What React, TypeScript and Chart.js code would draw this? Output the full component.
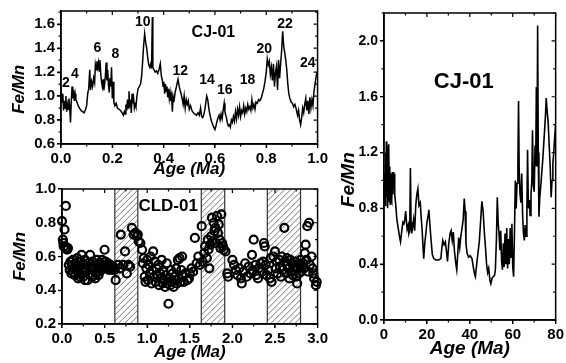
import React, { useEffect, useRef } from 'react';
import { Chart, registerables } from 'chart.js';
Chart.register(...registerables);

const FONT = 'Arial, "Liberation Sans", Helvetica, sans-serif';

// ---------- Panel A (CJ-01, 0-1 Ma) ----------
const ageA = [
  0.000,0.004,0.007,0.010,0.013,0.016,0.019,0.022,0.025,0.028,
  0.031,0.034,0.037,0.040,0.043,0.046,0.049,0.052,0.055,0.058,
  0.062,0.067,0.072,0.078,0.084,0.090,0.096,0.100,0.104,0.108,
  0.112,0.115,0.119,0.123,0.127,0.131,0.134,0.137,0.140,0.143,
  0.146,0.149,0.152,0.155,0.158,0.161,0.164,0.167,0.170,0.173,
  0.176,0.179,0.182,0.185,0.188,0.191,0.194,0.197,0.200,0.203,
  0.206,0.210,0.215,0.220,0.226,0.232,0.238,0.243,0.247,0.250,
  0.253,0.256,0.259,0.262,0.265,0.268,0.271,0.274,0.277,0.280,
  0.283,0.286,0.289,0.292,0.296,0.300,0.305,0.310,0.314,0.318,
  0.322,0.326,0.330,0.334,0.338,0.342,0.346,0.350,0.353,0.356,
  0.358,0.362,0.367,0.372,0.377,0.382,0.387,0.391,0.395,0.398,
  0.401,0.404,0.407,0.410,0.413,0.416,0.419,0.422,0.425,0.428,
  0.431,0.434,0.437,0.440,0.444,0.448,0.452,0.456,0.460,0.464,
  0.468,0.472,0.476,0.480,0.484,0.488,0.492,0.496,0.500,0.505,
  0.510,0.516,0.522,0.528,0.534,0.539,0.544,0.548,0.552,0.556,
  0.560,0.564,0.568,0.572,0.576,0.580,0.585,0.590,0.595,0.600,
  0.604,0.608,0.612,0.616,0.620,0.624,0.628,0.632,0.636,0.639,
  0.642,0.645,0.648,0.652,0.656,0.660,0.664,0.668,0.672,0.676,
  0.680,0.684,0.688,0.692,0.696,0.700,0.704,0.708,0.712,0.716,
  0.720,0.724,0.728,0.732,0.736,0.740,0.744,0.748,0.752,0.756,
  0.760,0.765,0.770,0.775,0.780,0.785,0.790,0.795,0.800,0.804,
  0.808,0.812,0.816,0.820,0.824,0.828,0.832,0.836,0.840,0.844,
  0.848,0.852,0.856,0.860,0.864,0.868,0.872,0.876,0.880,0.884,
  0.888,0.892,0.897,0.902,0.907,0.912,0.917,0.922,0.926,0.930,
  0.934,0.938,0.942,0.946,0.950,0.954,0.958,0.962,0.966,0.970,
  0.974,0.978,0.982,0.986,0.990,0.994,0.998,
];
const feMnA = [
  1.07,0.95,1.02,0.88,0.96,0.90,1.00,0.87,0.93,0.89,
  0.98,0.91,0.78,0.95,1.08,0.98,1.05,0.96,1.02,0.97,
  0.95,0.92,0.90,0.88,0.87,0.86,0.89,0.92,1.02,1.06,
  1.22,1.05,1.12,1.08,1.15,1.11,1.26,1.22,1.29,1.24,
  1.28,1.21,1.30,1.18,1.12,1.08,1.14,1.05,1.10,1.17,
  1.28,1.13,1.22,1.09,1.03,1.15,1.08,1.24,0.98,1.12,
  0.95,0.92,0.94,0.90,0.89,0.88,0.86,0.84,0.87,0.85,
  0.93,0.88,0.97,0.90,1.04,0.91,0.97,0.86,1.02,0.94,
  0.98,0.90,0.93,0.91,1.00,1.06,1.08,1.10,1.16,1.28,
  1.42,1.52,1.45,1.40,1.32,1.26,1.24,1.27,1.23,1.66,
  1.24,1.22,1.20,1.21,1.19,1.22,1.27,1.17,1.13,1.08,
  1.12,1.02,1.10,1.04,1.08,0.99,1.06,0.98,1.03,0.96,
  1.00,0.87,0.99,0.95,1.02,1.06,1.10,1.14,1.09,1.05,
  1.02,0.98,0.93,1.00,0.90,0.97,0.93,0.96,0.89,0.92,
  0.88,0.86,0.85,0.84,0.86,0.84,0.90,0.83,0.82,0.84,
  0.88,0.94,1.00,0.97,0.90,0.85,0.80,0.77,0.74,0.72,
  0.75,0.79,0.82,0.84,0.80,0.85,0.81,0.88,0.94,0.87,
  0.84,0.82,0.78,0.75,0.76,0.74,0.80,0.78,0.83,0.79,
  0.87,0.81,0.89,0.84,0.91,0.83,0.88,0.86,0.92,0.85,
  0.90,0.87,0.93,0.89,0.91,0.88,0.97,0.90,0.93,0.89,
  0.95,0.94,0.97,0.96,0.98,1.02,1.06,1.12,1.20,1.31,
  1.26,1.29,1.18,1.24,1.13,1.27,1.08,1.20,1.25,1.05,
  1.30,1.15,1.27,1.38,1.54,1.42,1.36,1.30,1.22,1.10,
  1.02,0.98,0.95,0.94,0.91,0.93,0.89,0.84,0.88,0.80,
  0.76,0.82,0.90,0.86,0.93,0.98,0.88,0.96,0.85,0.99,
  0.90,0.97,0.92,1.04,1.10,1.16,1.20,
];
const xTicksA = [0, 0.2, 0.4, 0.6, 0.8, 1.0];
const yTicksA = [0.6, 0.8, 1.0, 1.2, 1.4, 1.6];
const peakLabelsA = ['2', '4', '6', '8', '10', '12', '14', '16', '18', '20', '22', '24'];
const peakAgeA = [0.019, 0.054, 0.142, 0.212, 0.319, 0.465, 0.569, 0.638, 0.727, 0.792, 0.873, 0.962];
const peakFeA = [1.109, 1.187, 1.402, 1.352, 1.617, 1.212, 1.129, 1.046, 1.129, 1.393, 1.600, 1.278];

// ---------- Panel B (CLD-01, 0-3 Ma) ----------
const ageB = [
  0.00,0.01,0.015,0.02,0.03,0.035,0.045,0.05,0.06,0.07,
  0.08,0.09,0.10,0.11,0.12,0.13,0.14,0.15,0.16,0.17,
  0.18,0.19,0.20,0.21,0.22,0.23,0.24,0.25,0.26,0.27,
  0.28,0.29,0.30,0.31,0.32,0.33,0.34,0.35,0.36,0.37,
  0.38,0.39,0.40,0.41,0.42,0.43,0.44,0.45,0.46,0.47,
  0.48,0.49,0.50,0.51,0.52,0.53,0.54,0.55,0.56,0.57,
  0.58,0.59,0.60,0.13,0.21,0.27,0.36,0.44,0.62,0.63,
  0.66,0.68,0.69,0.72,0.74,0.76,0.78,0.80,0.82,0.84,
  0.86,0.88,0.89,0.90,0.92,0.94,0.95,0.96,0.97,0.98,
  0.99,1.00,1.01,1.02,1.03,1.04,1.05,1.06,1.07,1.08,
  1.09,1.10,1.11,1.12,1.13,1.14,1.15,1.16,1.17,1.18,
  1.19,1.20,1.21,1.22,1.23,1.24,1.25,1.26,1.27,1.28,
  1.29,1.30,1.31,1.32,1.33,1.34,1.35,1.36,1.37,1.38,
  1.39,1.40,1.41,1.42,1.43,1.45,1.47,1.49,1.50,1.52,
  1.54,1.56,1.58,1.60,1.62,1.64,1.65,1.67,1.68,1.70,
  1.71,1.72,1.73,1.74,1.75,1.76,1.77,1.78,1.79,1.80,
  1.81,1.82,1.83,1.84,1.85,1.86,1.87,1.88,1.89,1.90,
  1.92,1.94,1.95,2.00,2.02,2.04,2.06,2.08,2.10,2.11,
  2.13,2.15,2.17,2.19,2.21,2.23,2.24,2.25,2.27,2.28,
  2.30,2.31,2.33,2.35,2.36,2.37,2.38,2.39,2.40,2.42,
  2.44,2.45,2.46,2.48,2.50,2.51,2.52,2.53,2.55,2.56,
  2.57,2.58,2.59,2.61,2.62,2.63,2.64,2.65,2.66,2.67,
  2.68,2.69,2.70,2.71,2.72,2.73,2.74,2.75,2.76,2.77,
  2.78,2.79,2.80,2.81,2.82,2.83,2.84,2.85,2.86,2.87,
  2.88,2.89,2.90,2.91,2.93,2.94,2.95,2.96,2.98,2.99,
];
const feMnB = [
  0.81,0.70,0.68,0.66,0.76,0.66,0.90,0.65,0.64,0.65,
  0.55,0.52,0.57,0.50,0.55,0.58,0.53,0.49,0.56,0.52,
  0.59,0.47,0.54,0.50,0.57,0.61,0.52,0.48,0.55,0.58,
  0.51,0.53,0.46,0.56,0.50,0.61,0.54,0.49,0.57,0.52,
  0.55,0.47,0.50,0.58,0.53,0.49,0.55,0.56,0.52,0.58,
  0.54,0.53,0.64,0.57,0.55,0.53,0.56,0.52,0.54,0.55,
  0.53,0.52,0.54,0.51,0.48,0.46,0.48,0.51,0.52,0.46,
  0.55,0.53,0.73,0.55,0.63,0.50,0.55,0.54,0.77,0.73,
  0.74,0.72,0.73,0.69,0.68,0.64,0.56,0.59,0.48,0.45,
  0.53,0.58,0.46,0.55,0.50,0.60,0.44,0.52,0.63,0.48,
  0.57,0.45,0.53,0.49,0.55,0.43,0.50,0.47,0.58,0.44,
  0.51,0.46,0.42,0.49,0.56,0.44,0.32,0.47,0.43,0.52,
  0.45,0.50,0.42,0.48,0.46,0.53,0.44,0.58,0.47,0.59,
  0.45,0.52,0.60,0.49,0.45,0.50,0.46,0.47,0.50,0.53,
  0.51,0.71,0.56,0.60,0.55,0.78,0.57,0.62,0.66,0.59,
  0.70,0.64,0.53,0.67,0.72,0.83,0.69,0.80,0.75,0.77,
  0.68,0.84,0.74,0.79,0.70,0.65,0.85,0.68,0.66,0.64,
  0.63,0.50,0.48,0.58,0.55,0.52,0.49,0.53,0.47,0.44,
  0.51,0.56,0.48,0.54,0.50,0.61,0.52,0.70,0.55,0.49,
  0.47,0.53,0.56,0.51,0.57,0.68,0.66,0.55,0.49,0.52,
  0.47,0.59,0.45,0.60,0.63,0.53,0.57,0.50,0.58,0.54,
  0.48,0.60,0.52,0.77,0.57,0.50,0.59,0.55,0.53,0.47,
  0.58,0.51,0.56,0.49,0.54,0.52,0.57,0.48,0.44,0.53,
  0.50,0.55,0.58,0.51,0.54,0.56,0.53,0.62,0.67,0.58,
  0.78,0.51,0.80,0.55,0.60,0.53,0.50,0.47,0.43,0.45,
];
const xTicksB = [0, 0.5, 1.0, 1.5, 2.0, 2.5, 3.0];
const yTicksB = [0.2, 0.4, 0.6, 0.8, 1.0];
const bandStart = [0.62, 1.635, 2.41];
const bandEnd = [0.89, 1.91, 2.80];

// ---------- Panel C (CJ-01, 0-80 Ma) ----------
const ageC = [
  0.0,0.3,0.5,0.7,0.9,1.1,1.3,1.5,1.7,1.9,
  2.1,2.3,2.5,2.7,2.9,3.1,3.3,3.5,3.7,3.9,
  4.1,4.3,4.5,4.7,5.0,5.5,6.0,6.6,7.2,7.7,
  8.3,8.8,9.3,9.7,10.1,10.5,10.8,11.3,11.6,12.0,
  12.3,12.6,12.9,13.3,13.8,14.3,14.8,15.3,15.8,16.3,
  16.9,17.4,17.8,18.2,18.5,19.0,19.5,20.0,20.5,20.9,
  21.3,21.9,22.5,23.2,24.2,25.5,26.5,27.0,27.4,28.0,
  28.6,29.2,29.6,30.2,30.8,31.3,31.8,32.3,32.8,33.5,
  33.9,34.4,34.8,35.3,35.8,36.3,36.9,37.4,37.8,38.2,
  38.7,39.4,40.2,41.0,41.6,42.2,42.6,43.2,43.8,44.4,
  45.0,45.6,46.2,46.8,47.3,47.8,48.3,48.8,49.4,49.8,
  50.4,50.9,51.5,51.9,52.4,52.8,53.2,53.6,54.0,54.4,
  54.8,55.2,55.6,56.0,56.4,56.8,57.2,57.6,58.0,58.4,
  58.8,59.2,59.6,60.0,60.4,60.8,61.2,61.6,62.0,62.4,
  62.7,63.0,63.4,63.8,64.2,64.6,65.0,65.4,65.8,66.2,
  66.6,66.9,67.3,67.7,68.1,68.5,68.9,69.2,69.6,70.0,
  70.4,70.7,71.0,71.3,71.6,71.9,72.2,72.6,73.0,73.5,
  74.0,74.6,75.2,75.6,76.0,76.5,77.0,77.5,77.9,78.3,
  78.7,79.1,79.5,80.0,
];
const feMnC = [
  0.90,1.05,0.82,1.20,0.85,1.28,0.88,1.25,0.80,1.18,
  0.92,1.26,0.85,1.10,0.83,1.05,0.88,1.03,0.86,1.06,
  0.90,1.06,0.95,1.05,0.90,0.82,0.72,0.66,0.60,0.56,
  0.64,0.70,0.69,0.72,0.78,0.70,0.65,0.68,0.62,0.64,
  1.09,0.70,0.62,0.66,0.72,0.64,0.82,0.90,0.94,0.82,
  0.84,0.72,0.64,0.52,0.44,0.55,0.62,0.70,0.74,0.79,
  0.70,0.58,0.47,0.44,0.43,0.43,0.44,0.52,0.57,0.54,
  0.56,0.48,0.42,0.55,0.62,0.64,0.57,0.63,0.50,0.40,
  0.36,0.48,0.59,0.52,0.60,0.65,0.72,0.87,0.78,0.55,
  0.48,0.45,0.46,0.44,0.38,0.33,0.31,0.40,0.48,0.56,
  0.70,0.85,0.78,0.62,0.52,0.40,0.34,0.37,0.28,0.26,
  0.30,0.31,0.32,0.36,0.58,0.88,0.70,0.62,0.50,0.64,
  0.42,0.36,0.55,0.38,0.62,0.40,0.66,0.37,0.58,0.40,
  0.66,0.45,0.69,0.38,0.31,0.62,1.00,0.80,0.98,1.10,
  1.57,1.08,0.90,0.84,1.05,0.75,0.62,0.57,0.68,0.60,
  0.78,1.22,0.80,0.86,0.75,0.90,1.00,1.36,0.96,0.92,
  1.25,1.10,1.67,1.10,2.11,1.20,0.74,0.88,0.95,1.05,
  1.15,1.30,1.45,1.59,1.50,1.42,1.25,1.08,0.88,1.00,
  1.12,1.20,1.30,1.41,
];
const xTicksC = [0, 20, 40, 60, 80];
const yTicksC = [0, 0.4, 0.8, 1.2, 1.6, 2.0];

// ---------- helpers ----------
const bold = (size: number, italic = false) => ({ family: FONT, size, weight: 'bold' as const, style: (italic ? 'italic' : 'normal') as any });

function framePlugin(minorX: number, minorY: number) {
  return {
    id: 'frame',
    afterDraw(chart: any) {
      const ctx = chart.ctx;
      const { left, right, top, bottom } = chart.chartArea;
      const xs = chart.scales.x;
      const ys = chart.scales.y;
      const majX = xs.ticks.map((t: any) => t.value);
      const majY = ys.ticks.map((t: any) => t.value);
      const isMaj = (arr: number[], v: number, step: number) => arr.some((m) => Math.abs(m - v) < step * 0.01);
      ctx.save();
      ctx.strokeStyle = '#000';
      ctx.lineWidth = 1.2;
      ctx.beginPath();
      const nx = Math.floor((xs.max - xs.min) / minorX + 1e-6);
      for (let i = 0; i <= nx; i++) {
        const v = xs.min + i * minorX;
        const p = xs.getPixelForValue(v);
        const len = isMaj(majX, v, minorX) ? 4 : 2.5;
        ctx.moveTo(p, bottom); ctx.lineTo(p, bottom + len);
        ctx.moveTo(p, top); ctx.lineTo(p, top + len);
      }
      const ny = Math.floor((ys.max - ys.min) / minorY + 1e-6);
      for (let i = 0; i <= ny; i++) {
        const v = ys.min + i * minorY;
        const p = ys.getPixelForValue(v);
        const len = isMaj(majY, v, minorY) ? 4 : 2.5;
        ctx.moveTo(left, p); ctx.lineTo(left - len, p);
        ctx.moveTo(right, p); ctx.lineTo(right - len, p);
      }
      ctx.stroke();
      ctx.lineWidth = 1.5;
      ctx.strokeRect(left, top, right - left, bottom - top);
      ctx.restore();
    },
  };
}

function textPlugin(texts: string[], xs: number[], ys: number[], sizes: number[]) {
  return {
    id: 'texts',
    afterDatasetsDraw(chart: any) {
      const ctx = chart.ctx;
      ctx.save();
      ctx.fillStyle = '#000';
      ctx.textAlign = 'center';
      ctx.textBaseline = 'middle';
      texts.forEach((t, i) => {
        ctx.font = `bold ${sizes[i]}px ${FONT}`;
        ctx.fillText(t, chart.scales.x.getPixelForValue(xs[i]), chart.scales.y.getPixelForValue(ys[i]));
      });
      ctx.restore();
    },
  };
}

const hatchPlugin = {
  id: 'hatch',
  beforeDatasetsDraw(chart: any) {
    const ctx = chart.ctx;
    const { top, bottom } = chart.chartArea;
    const xs = chart.scales.x;
    const h = bottom - top;
    ctx.save();
    bandStart.forEach((s, i) => {
      const x1 = xs.getPixelForValue(s);
      const x2 = xs.getPixelForValue(bandEnd[i]);
      ctx.save();
      ctx.beginPath();
      ctx.rect(x1, top, x2 - x1, h);
      ctx.clip();
      ctx.strokeStyle = '#555';
      ctx.lineWidth = 0.8;
      ctx.beginPath();
      for (let k = -h; k < x2 - x1 + 6; k += 6) {
        ctx.moveTo(x1 + k, bottom);
        ctx.lineTo(x1 + k + h, top);
      }
      ctx.stroke();
      ctx.restore();
      ctx.strokeStyle = '#333';
      ctx.lineWidth = 1.2;
      ctx.beginPath();
      ctx.moveTo(x1, top); ctx.lineTo(x1, bottom);
      ctx.moveTo(x2, top); ctx.lineTo(x2, bottom);
      ctx.stroke();
    });
    ctx.restore();
  },
};

function axis(opts: {
  min: number; max: number; ticks: number[]; fmt: (v: number) => string; size: number;
  tickFont: number; title: string; titleFont: number; titlePad: any; horizontal: boolean;
}) {
  return {
    type: 'linear',
    min: opts.min,
    max: opts.max,
    afterBuildTicks: (s: any) => { s.ticks = opts.ticks.map((v) => ({ value: v })); },
    afterFit: (s: any) => { if (opts.horizontal) s.height = opts.size; else s.width = opts.size; },
    ticks: { callback: (v: any) => opts.fmt(Number(v)), font: bold(opts.tickFont), color: '#000', padding: 2, autoSkip: false, maxRotation: 0 },
    grid: { drawOnChartArea: false, drawTicks: true, tickLength: 4, color: '#000', lineWidth: 1.2 },
    border: { color: '#000', width: 1.5 },
    title: { display: true, text: opts.title, font: bold(opts.titleFont, true), color: '#000', padding: opts.titlePad },
  };
}

function ChartCanvas({ config, left, top, width, height }: any) {
  const ref = useRef<HTMLCanvasElement>(null);
  useEffect(() => {
    const chart = new Chart(ref.current as HTMLCanvasElement, config);
    return () => chart.destroy();
  }, []);
  return <canvas ref={ref} width={width} height={height} style={{ position: 'absolute', left, top, width, height }} />;
}

const f1 = (v: number) => v.toFixed(1);
const f0 = (v: number) => v.toFixed(0);

const configA: any = {
  type: 'scatter',
  data: { datasets: [{ data: ageA.map((x, i) => ({ x, y: feMnA[i] })), showLine: true, borderColor: '#000', borderWidth: 1.5, pointRadius: 0, tension: 0 }] },
  options: {
    animation: false, responsive: false, events: [],
    layout: { padding: { top: 10, right: 9, left: 0, bottom: 0 } },
    plugins: { legend: { display: false }, tooltip: { enabled: false } },
    scales: {
      x: axis({ min: 0, max: 1, ticks: xTicksA, fmt: f1, size: 36, tickFont: 15, title: 'Age (Ma)', titleFont: 17, titlePad: { top: 0, bottom: 0 }, horizontal: true }),
      y: axis({ min: 0.6, max: 1.71, ticks: yTicksA, fmt: f1, size: 61, tickFont: 15, title: 'Fe/Mn     ', titleFont: 17, titlePad: { top: 9, bottom: 0 }, horizontal: false }),
    },
  },
  plugins: [framePlugin(0.1, 0.1), textPlugin([...peakLabelsA, 'CJ-01'], [...peakAgeA, 0.594], [...peakFeA, 1.526], [...peakLabelsA.map(() => 14), 16])],
};

const configB: any = {
  type: 'scatter',
  data: { datasets: [{ data: ageB.map((x, i) => ({ x, y: feMnB[i] })), pointStyle: 'circle', radius: 4, borderWidth: 2.2, borderColor: '#000', backgroundColor: 'rgba(0,0,0,0)', clip: false }] },
  options: {
    animation: false, responsive: false, events: [],
    layout: { padding: { top: 8, right: 8, left: 0, bottom: 0 } },
    plugins: { legend: { display: false }, tooltip: { enabled: false } },
    scales: {
      x: axis({ min: 0, max: 3, ticks: xTicksB, fmt: f1, size: 39, tickFont: 15, title: 'Age (Ma)', titleFont: 17, titlePad: { top: 0, bottom: 0 }, horizontal: true }),
      y: axis({ min: 0.2, max: 1.0, ticks: yTicksB, fmt: f1, size: 62, tickFont: 15, title: 'Fe/Mn', titleFont: 17, titlePad: { top: 10, bottom: 0 }, horizontal: false }),
    },
  },
  plugins: [hatchPlugin, framePlugin(0.25, 0.1), textPlugin(['CLD-01'], [1.246], [0.896], [17])],
};

const configC: any = {
  type: 'scatter',
  data: { datasets: [{ data: ageC.map((x, i) => ({ x, y: feMnC[i] })), showLine: true, borderColor: '#000', borderWidth: 1.6, pointRadius: 0, tension: 0 }] },
  options: {
    animation: false, responsive: false, events: [],
    layout: { padding: { top: 13, right: 8, left: 0, bottom: 0 } },
    plugins: { legend: { display: false }, tooltip: { enabled: false } },
    scales: {
      x: axis({ min: 0, max: 80, ticks: xTicksC, fmt: f0, size: 43, tickFont: 15, title: 'Age (Ma)', titleFont: 19, titlePad: { top: 0, bottom: 3 }, horizontal: true }),
      y: axis({ min: 0, max: 2.2, ticks: yTicksC, fmt: f1, size: 50, tickFont: 14, title: 'Fe/Mn     ', titleFont: 19, titlePad: { top: 3, bottom: 0 }, horizontal: false }),
    },
  },
  plugins: [framePlugin(10, 0.2), textPlugin(['CJ-01'], [37.2], [1.706], [22])],
};

export default function App() {
  return (
    <div style={{ position: 'fixed', left: 0, top: 0, width: 566, height: 363, background: '#fff', overflow: 'hidden' }}>
      <ChartCanvas config={configA} left={0} top={0} width={330} height={180} />
      <ChartCanvas config={configB} left={0} top={178} width={330} height={185} />
      <ChartCanvas config={configC} left={334} top={0} width={232} height={363} />
    </div>
  );
}
